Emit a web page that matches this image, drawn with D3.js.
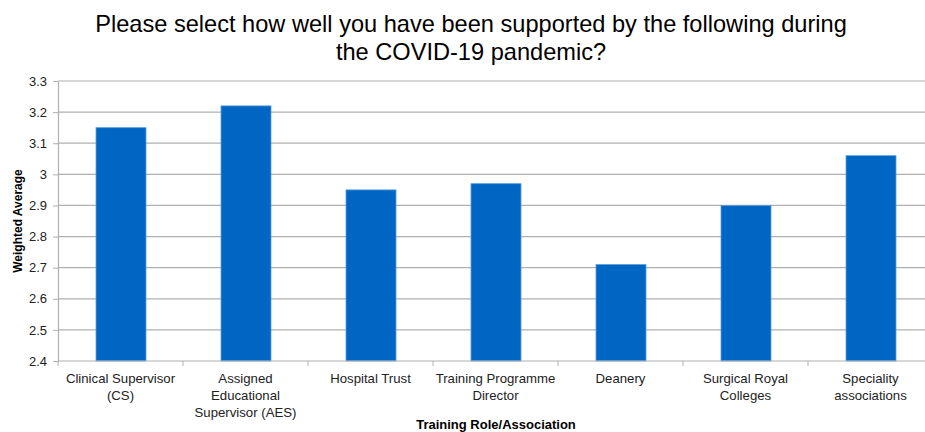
<!DOCTYPE html>
<html><head><meta charset="utf-8">
<script src="https://cdn.jsdelivr.net/npm/d3@7"></script>
<style>body{margin:0;background:#fff;} svg{display:block;font-family:"Liberation Sans",Arial,sans-serif;}</style>
</head><body>
<svg id="c" width="925" height="432"></svg>
<script>
const categories = [
  ["Clinical Supervisor","(CS)"],
  ["Assigned","Educational","Supervisor (AES)"],
  ["Hospital Trust"],
  ["Training Programme","Director"],
  ["Deanery"],
  ["Surgical Royal","Colleges"],
  ["Speciality","associations"]
];
const values = [3.15, 3.22, 2.95, 2.97, 2.71, 2.90, 3.06];
const yTicks = [2.4, 2.5, 2.6, 2.7, 2.8, 2.9, 3.0, 3.1, 3.2, 3.3];
const titleLines = ["Please select how well you have been supported by the following during","the COVID-19 pandemic?"];
const yTitle = "Weighted Average";
const xTitle = "Training Role/Association";

(function(){
const svg = d3.select("#c");
const pLeft = 58, pRight = 933, pTop = 81, pBottom = 361;
const x = d3.scaleBand().domain(d3.range(categories.length)).range([pLeft, pRight]).padding(0);
const y = d3.scaleLinear().domain([2.4, 3.3]).range([pBottom, pTop]);

// title
svg.append("text").attr("x", 471).attr("y", 32).attr("text-anchor","middle")
  .attr("font-size", 23.6).attr("fill","#000")
  .selectAll("tspan").data(titleLines).join("tspan")
  .attr("x", 471).attr("dy",(d,i)=> i===0?0:28).text(d=>d);

// gridlines
svg.append("g").selectAll("line").data(yTicks.slice(1)).join("line")
  .attr("x1", pLeft).attr("x2", pRight).attr("y1", d=>y(d)).attr("y2", d=>y(d))
  .attr("stroke","#b0b0b0").attr("stroke-width",1.2);

// bars
const bw = x.bandwidth()*0.4;
svg.append("g").selectAll("rect").data(values).join("rect")
  .attr("x",(d,i)=>x(i)+x.bandwidth()/2-bw/2+0.5)
  .attr("width", bw)
  .attr("y", d=>y(d)).attr("height", d=>pBottom-y(d))
  .attr("fill","#0066c4").attr("stroke","#5b9ee0").attr("stroke-width",0.8);

// y axis
const ya = svg.append("g").attr("transform",`translate(${pLeft},0)`)
  .call(d3.axisLeft(y).tickValues(yTicks).tickSize(5).tickSizeOuter(0).tickPadding(6)
    .tickFormat(d=>String(Math.round(d*10)/10)));
ya.select(".domain").attr("stroke","#b0b0b0").attr("stroke-width",1.2);
ya.selectAll(".tick line").attr("stroke","#b0b0b0");
ya.selectAll(".tick text").attr("font-size",13).attr("fill","#222").attr("font-family","Liberation Sans, Arial, sans-serif");

// x axis
const xa = svg.append("g").attr("transform",`translate(0,${pBottom})`);
xa.append("line").attr("x1",pLeft).attr("x2",pRight).attr("y1",0).attr("y2",0).attr("stroke","#b0b0b0").attr("stroke-width",1.2);
xa.selectAll("line.t").data(d3.range(categories.length+1)).join("line").attr("class","t")
  .attr("x1",i=> i<categories.length? x(i): pRight).attr("x2",i=> i<categories.length? x(i): pRight)
  .attr("y1",0).attr("y2",5).attr("stroke","#b0b0b0");
xa.selectAll("text.lab").data(categories).join("text").attr("class","lab")
  .attr("text-anchor","middle").attr("font-size",13.2).attr("fill","#222")
  .each(function(d,i){
    d3.select(this).selectAll("tspan").data(d).join("tspan")
      .attr("x", x(i)+x.bandwidth()/2).attr("y",(t,j)=>22+j*17).text(t=>t);
  });

// axis titles
svg.append("text").attr("transform",`translate(22,${(pTop+pBottom)/2}) rotate(-90)`)
  .attr("text-anchor","middle").attr("font-size",12).attr("font-weight","bold").text(yTitle);
svg.append("text").attr("x",496).attr("y",428.5).attr("text-anchor","middle")
  .attr("font-size",13).attr("font-weight","bold").text(xTitle);
})();
</script>
</body></html>
